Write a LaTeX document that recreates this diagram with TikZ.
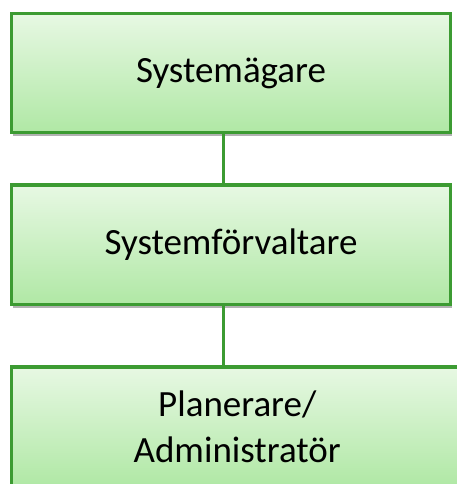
\documentclass[tikz,border=0pt]{standalone}
\usepackage{fontspec}
\setmainfont{Carlito}
\usetikzlibrary{shadows}
\definecolor{boxline}{RGB}{60,155,50}
\definecolor{boxtop}{RGB}{231,248,227}
\definecolor{boxbot}{RGB}{176,232,165}
\tikzset{
  orgbox/.style={draw=boxline, line width=3.5pt, top color=boxtop, bottom color=boxbot,
    inner sep=0pt, align=center, font=\fontsize{37pt}{46pt}\selectfont,
    drop shadow={shadow xshift=1pt, shadow yshift=-3pt, opacity=0.3, fill=black}},
  link/.style={draw=boxline, line width=3pt}
}
\begin{document}
\begin{tikzpicture}[x=1pt,y=-1pt]
\useasboundingbox (0,0) rectangle (456,484);
\node[orgbox, minimum width=439pt, minimum height=119pt] (b1) at (231,73) {Systemägare};
\node[orgbox, minimum width=439pt, minimum height=119.5pt] (b2) at (231,244.75) {Systemförvaltare};
\node[orgbox, minimum width=451.5pt, minimum height=119pt] (b3) at (237.25,426.5) {Planerare/\\Administratör};
\draw[link] ([xshift=-7.2pt]b1.south) -- ([xshift=-7.2pt]b2.north);
\draw[link] ([xshift=-7.2pt]b2.south) -- ([xshift=-13.45pt]b3.north);
\end{tikzpicture}
\end{document}
